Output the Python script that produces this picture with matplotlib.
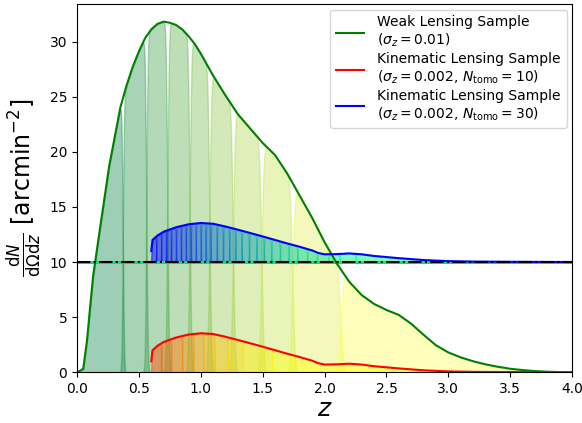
import math
import numpy as np
import matplotlib
matplotlib.use('Agg')
from matplotlib import pyplot as plt
from matplotlib.colors import LinearSegmentedColormap

# weak lensing sample n(z)
z_wl = [0.0, 0.05, 0.08, 0.1, 0.13, 0.18, 0.26, 0.35, 0.4, 0.45, 0.5, 0.55, 0.6,
        0.65, 0.7, 0.75, 0.8, 0.85, 0.9, 0.95, 1.0, 1.1, 1.2, 1.3, 1.4, 1.5, 1.6,
        1.7, 1.8, 1.9, 2.0, 2.1, 2.2, 2.3, 2.4, 2.5, 2.6, 2.7, 2.8, 2.9, 3.0,
        3.1, 3.2, 3.3, 3.4, 3.5, 3.6, 3.7, 3.8, 3.9, 4.0]
n_wl = [0.0, 0.3, 2.8, 5.2, 8.7, 12.6, 18.7, 24.0, 26.0, 27.7, 29.1, 30.3, 31.1,
        31.6, 31.8, 31.7, 31.5, 31.1, 30.5, 29.8, 28.9, 26.9, 25.1, 23.4, 22.1,
        20.8, 19.7, 18.0, 16.0, 14.0, 11.8, 9.85, 8.2, 7.0, 6.2, 5.65, 5.2, 4.4,
        3.4, 2.45, 1.8, 1.35, 1.0, 0.72, 0.5, 0.32, 0.2, 0.11, 0.05, 0.02, 0.0]

# kinematic lensing sample n(z)
z_kl = [0.6, 0.61, 0.65, 0.7, 0.8, 0.9, 1.0, 1.1, 1.2, 1.3, 1.4, 1.5, 1.6, 1.7,
        1.8, 1.9, 1.95, 2.0, 2.1, 2.2, 2.3, 2.4, 2.5, 2.6, 2.8, 3.0, 3.2, 3.5, 4.0]
n_kl = [1.0, 2.0, 2.4, 2.75, 3.15, 3.42, 3.54, 3.47, 3.22, 2.93, 2.63, 2.32, 2.0,
        1.68, 1.38, 1.05, 0.82, 0.7, 0.72, 0.78, 0.7, 0.55, 0.45, 0.35, 0.18,
        0.08, 0.04, 0.02, 0.0]

# tomographic bin edges
edges_wl = [0.0, 0.37, 0.56, 0.73, 0.91, 1.07, 1.26, 1.49, 1.74, 2.13, 4.0]
edges_kl10 = [0.6, 0.68, 0.76, 0.85, 0.94, 1.02, 1.11, 1.22, 1.34, 1.58, 4.0]
edges_kl30 = [0.6, 0.64, 0.68, 0.72, 0.76, 0.80, 0.84, 0.88, 0.92, 0.96, 1.00,
              1.04, 1.08, 1.13, 1.18, 1.23, 1.28, 1.33, 1.39, 1.45, 1.51, 1.57,
              1.64, 1.71, 1.78, 1.86, 1.94, 2.03, 2.12, 2.25, 4.0]

sigma_wl = 0.01
sigma_kl = 0.002
offset = 10

erf = np.vectorize(math.erf)
zz = np.linspace(0, 4, 4001)

wl_cmap = LinearSegmentedColormap.from_list('wl', ['#008040', '#ffff4d'])


def window(lo, hi, sig):
    # photo-z scatter smoothing of a top-hat bin (narrowed a bit to match look)
    s = 0.8 * sig * (1 + zz)
    return 0.5 * (erf((zz - lo) / s) - erf((zz - hi) / s))


def draw_bins(ax, nz, edges, sig, cmap, alpha, base=0.0, cstart=0.0):
    nb = len(edges) - 1
    for i in range(nb):
        w = window(edges[i], edges[i + 1], sig)
        c = cmap(cstart + (1 - cstart) * i / (nb - 1))
        ax.fill_between(zz, base, base + nz * w, color=c, alpha=alpha)


fig = plt.figure(figsize=(5.82, 4.23), dpi=100)
ax = fig.add_axes([0.1323, 0.1199, 0.8507, 0.8706])

nwl_f = np.interp(zz, z_wl, n_wl)
nkl_f = np.interp(zz, z_kl, n_kl, left=0.0, right=0.0)

draw_bins(ax, nwl_f, edges_wl, sigma_wl, wl_cmap, 0.38)
draw_bins(ax, nkl_f, edges_kl10, sigma_kl, plt.cm.autumn, 0.45, cstart=0.3)
draw_bins(ax, nkl_f, edges_kl30, sigma_kl, plt.cm.winter, 0.5, base=offset)

ax.plot(z_wl, n_wl, color='g', lw=1.5, label='Weak Lensing Sample\n($\\sigma_z=0.01$)')
ax.plot(z_kl, n_kl, color='r', lw=1.5,
        label='Kinematic Lensing Sample\n($\\sigma_z=0.002$, $N_{\\rm tomo}=10$)')
ax.plot(z_kl, np.array(n_kl) + offset, color='b', lw=1.5,
        label='Kinematic Lensing Sample\n($\\sigma_z=0.002$, $N_{\\rm tomo}=30$)')
ax.axhline(offset, color='k', ls='-.', lw=1.5)

ax.set_xlim(0, 4)
ax.set_ylim(0, 33.4)
ax.set_xlabel('$z$', fontsize=18, labelpad=1)
ax.set_ylabel(r'$\frac{{\rm d}N}{{\rm d}\Omega{\rm d}z}$ [arcmin$^{-2}$]', fontsize=17)
ax.tick_params(labelsize=10)
ax.legend(loc='upper right', fontsize=10, labelspacing=0.2, handletextpad=1.0,
          borderaxespad=0.4)

fig.savefig('out.png', dpi=100)
